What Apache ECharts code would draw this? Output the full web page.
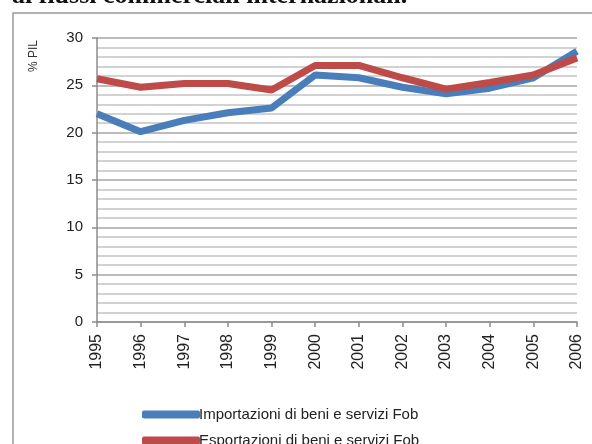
<!DOCTYPE html>
<html>
<head>
<meta charset="utf-8">
<script src="https://cdn.jsdelivr.net/npm/echarts@6/dist/echarts.min.js"></script>
<style>
  html, body { margin: 0; padding: 0; background: #fff; }
  #chart { width: 592px; height: 444px; }
</style>
</head>
<body>
<div id="chart"></div>
<script>
const years = ['1995', '1996', '1997', '1998', '1999', '2000', '2001', '2002', '2003', '2004', '2005', '2006']
const importazioni = [22.0, 20.1, 21.3, 22.1, 22.6, 26.1, 25.8, 24.8, 24.1, 24.7, 25.8, 28.6]
const esportazioni = [25.7, 24.8, 25.2, 25.2, 24.5, 27.1, 27.1, 25.8, 24.6, 25.3, 26.1, 27.9]
const seriesNames = ['Importazioni di beni e servizi Fob', 'Esportazioni di beni e servizi Fob']

const labelFont = 'Liberation Sans'
const myChart = echarts.init(document.getElementById('chart'))

// one legend per row, stacked like the original
const legendRow = (name, top) => ({
  left: 137, top: top,
  itemWidth: 58, itemHeight: 8, icon: 'roundRect',
  textStyle: { fontFamily: labelFont, fontSize: 15, color: '#222', padding: [0, 0, 0, -6] },
  data: [name]
})

myChart.setOption({
  animation: false,
  graphic: [
    {
      type: 'text', left: 12, top: -17,
      style: { text: 'ai flussi commerciali internazionali.', fontFamily: 'Liberation Serif', fontWeight: 'bold', fontSize: 26, fill: '#111' }
    },
    {
      type: 'rect', shape: { x: 13, y: 13, width: 620, height: 480 },
      style: { fill: 'none', stroke: '#9a9a9a', lineWidth: 1.5 }, z: -1
    },
    {
      type: 'text', x: 34, y: 56, rotation: Math.PI / 2,
      style: { text: '% PIL', fontFamily: labelFont, fontSize: 12, fill: '#333', align: 'center', verticalAlign: 'middle' }
    }
  ],
  grid: { left: 97, right: 15, top: 38, bottom: 122 },
  legend: [legendRow(seriesNames[0], 402), legendRow(seriesNames[1], 428)],
  xAxis: {
    type: 'category',
    data: years,
    boundaryGap: false,
    axisLine: { lineStyle: { color: '#8c8c8c', width: 1.5 } },
    axisTick: { show: true, length: 5, lineStyle: { color: '#8c8c8c', width: 1.5 } },
    axisLabel: { rotate: 90, fontFamily: labelFont, fontSize: 16, color: '#222', margin: 12 }
  },
  yAxis: {
    type: 'value',
    min: 0, max: 30, interval: 5,
    axisLine: { show: true, lineStyle: { color: '#8c8c8c', width: 1.5 } },
    axisTick: { show: true, length: 5, lineStyle: { color: '#8c8c8c', width: 1.5 } },
    axisLabel: { fontFamily: labelFont, fontSize: 15, color: '#222', margin: 14 },
    splitLine: { show: true, lineStyle: { color: '#a6a6a6', width: 1.5 } },
    minorTick: { show: false, splitNumber: 5 },
    minorSplitLine: { show: true, lineStyle: { color: '#c4c4c4', width: 1.5 } }
  },
  series: [
    {
      name: seriesNames[0], type: 'line', data: importazioni,
      symbol: 'none', lineStyle: { width: 7, color: '#4a7ebb' }, itemStyle: { color: '#4a7ebb' }
    },
    {
      name: seriesNames[1], type: 'line', data: esportazioni,
      symbol: 'none', lineStyle: { width: 7, color: '#be4b48' }, itemStyle: { color: '#be4b48' }
    }
  ]
})
</script>
</body>
</html>
